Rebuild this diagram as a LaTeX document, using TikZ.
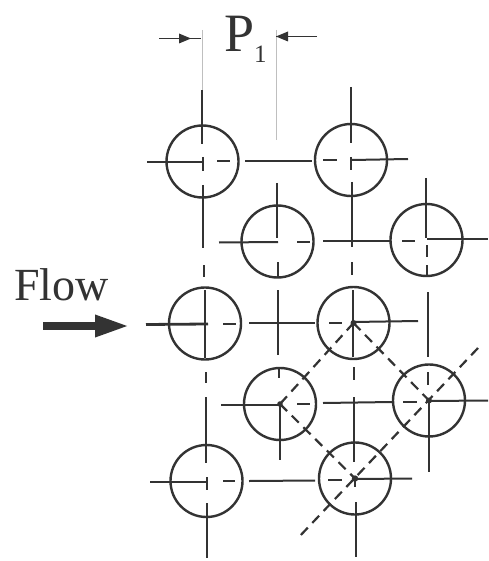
\documentclass[tikz,border=0pt]{standalone}
\usepackage{fontspec}
\setmainfont{Liberation Serif}
\usetikzlibrary{arrows.meta}
\definecolor{ink}{HTML}{333333}
\tikzset{
  tube/.style={circle,draw=ink,line width=2.4pt,minimum size=72pt,inner sep=0pt},
  axis/.style={draw=ink,line width=2pt},
  axisb/.style={draw=ink,line width=2.8pt},
  extline/.style={draw=black!25,line width=0.8pt},
  dimline/.style={draw=ink,line width=1pt},
  dimhead/.style={fill=ink,draw=none},
  diag/.style={draw=ink,line width=2.2pt,dash pattern=on 10pt off 6.5pt},
  flowarrow/.style={draw=ink,line width=8.5pt,-{Triangle[length=35pt,width=20pt]}},
  lab/.style={inner sep=0pt,text=ink,anchor=base west}
}
\begin{document}
\begin{tikzpicture}[x=1pt,y=-1pt]
\useasboundingbox (0,0) rectangle (488,561);
% tubes
\node[tube] (A) at (202.5,161.5) {};
\node[tube] (B) at (351,160) {};
\node[tube] (C) at (277.5,241.5) {};
\node[tube] (D) at (426.5,240) {};
\node[tube] (E) at (205,323.5) {};
\node[tube] (F) at (353.5,323) {};
\node[tube] (G) at (280,404) {};
\node[tube] (H) at (429,400.5) {};
\node[tube] (I) at (206.5,481) {};
\node[tube] (J) at (355,478.5) {};
% vertical centre lines
\draw[axis] (202,90)--(202,144) (202.5,157)--(202.5,171) (203,185)--(203,248) (203.5,265)--(203.5,277);
\draw[axis] (205,290)--(205,358) (205.5,372)--(205.5,383) (206,397)--(206,463) (206.5,477)--(206.5,490) (207,503)--(207,558);
\draw[axis] (277,183)--(277,238) (278,262)--(278,277) (278,290)--(278,355) (279,368)--(279,378) (280,403)--(280,460);
\draw[axis] (350.5,87)--(350.5,143) (351,157)--(351,170) (351.5,182)--(351.5,247) (352,262)--(352,275);
\draw[axis] (353,290)--(353,357) (354,367)--(354,380) (354,397)--(354,462) (355,477)--(355,487) (356,502)--(356,557);
\draw[axis] (426,178)--(426,238) (427,245)--(427,257) (427,265)--(427,275);
\draw[axis] (427.5,292)--(427.5,357) (428,372)--(428,385) (429,398)--(429,472);
% horizontal centre lines
\draw[axisb] (147,162)--(202,162);
\draw[axis] (217,161.5)--(230,161.5);
\draw[axisb] (245,161)--(312,161);
\draw[axis] (323,160.5)--(337,160.5);
\draw[axis] (352,160)--(408,159);
\draw[axis] (219,242.5)--(278,242);
\draw[axis] (297,241.5)--(310,241.5);
\draw[axisb] (323,241)--(390,241);
\draw[axis] (402,240.5)--(415,240.5);
\draw[axis] (427,239)--(488,239);
\draw[axisb] (146,324.5)--(208,324);
\draw[axis] (223,323.5)--(236,323.5);
\draw[axisb] (249,323)--(315,323);
\draw[axis] (329,322.5)--(342,322.5);
\draw[axis] (353,322)--(418,321);
\draw[axis] (221,404.5)--(280,404.5);
\draw[axis] (297,403.5)--(310,403.5);
\draw[axis] (323,403)--(392,402);
\draw[axis] (403,401.5)--(417,401.5);
\draw[axis] (429,401)--(488,400.5);
\draw[axis] (150,481.5)--(207,481.5);
\draw[axis] (223,481)--(235,481);
\draw[axis] (249,481)--(315,480.5);
\draw[axis] (328,480)--(342,480);
\draw[axis] (355,479)--(412,478.5);
% diagonal pitch lines
\coordinate (Q1) at (478,348);
\coordinate (Q2) at (298,538);
\draw[diag] (F.center)--(G.center);
\draw[diag] (G.center)--(J.center);
\draw[diag] (F.center)--(H.center);
\draw[diag] (Q1)--(Q2);
\fill[ink] (F.center) circle (3pt) (G.center) circle (2.8pt) (H.center) circle (3pt) (J.center) circle (3.2pt);
% pitch dimension
\coordinate (E1a) at (202,30);
\coordinate (E1b) at (202,90);
\coordinate (E2a) at (276,30);
\coordinate (E2b) at (276,140);
\draw[extline] (E1a)--(E1b);
\draw[extline] (E2a)--(E2b);
\coordinate (D1a) at (159,38.5);
\coordinate (D1b) at (201,38.5);
\coordinate (D2a) at (317,36.5);
\coordinate (D2b) at (276,36.5);
\draw[dimline] (D1a)--(D1b);
\draw[dimline] (D2a)--(D2b);
\fill[dimhead] (179,33.5)--(191,38.5)--(179,43.5)--cycle;
\fill[dimhead] (288,31.5)--(276,36.5)--(288,41.5)--cycle;
\node[lab,font=\fontsize{54}{54}\selectfont] (P) at (224,52) {P\raisebox{-11pt}{\fontsize{25}{25}\selectfont 1}};
% flow
\node[lab,font=\fontsize{46}{46}\selectfont] (flowlab) at (14,300) {Flow};
\coordinate (F1) at (43,326);
\coordinate (F2) at (130,326);
\draw[flowarrow] (F1)--(F2);
\end{tikzpicture}
\end{document}
